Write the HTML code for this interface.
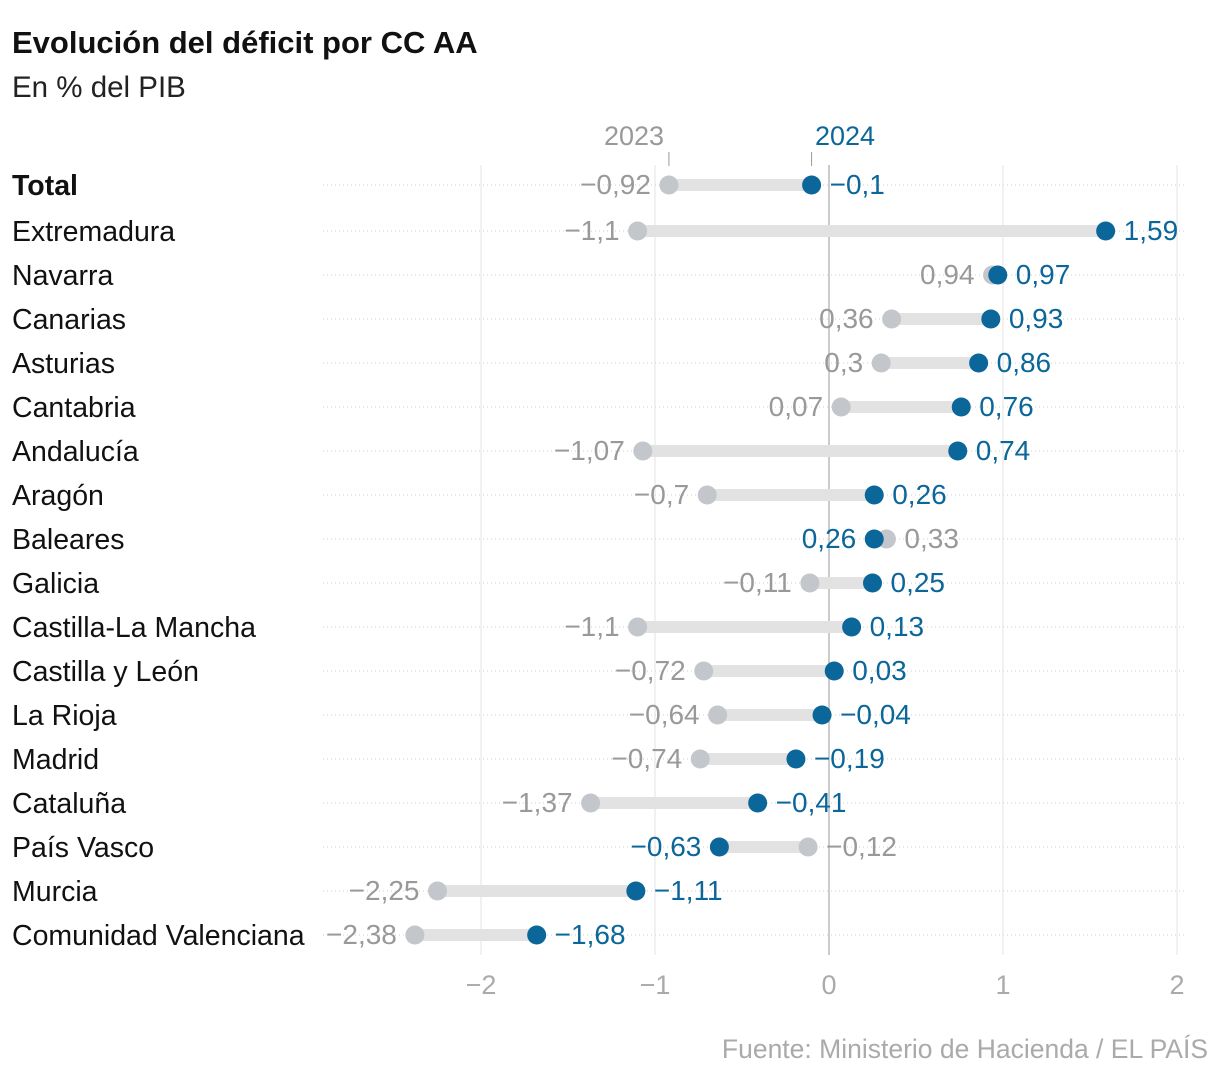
<!DOCTYPE html>
<html><head><meta charset="utf-8"><style>
body{margin:0;background:#fff;font-family:"Liberation Sans",sans-serif;}
svg text{font-family:"Liberation Sans",sans-serif;}
</style></head><body>
<svg id="c" width="1220" height="1078">
<text x="12" y="53" font-size="31" font-weight="bold" fill="#111">Evolución del déficit por CC AA</text>
<text x="12" y="97" font-size="29.5" fill="#222">En % del PIB</text>
<text x="1208" y="1058" font-size="26.5" fill="#aaa" text-anchor="end">Fuente: Ministerio de Hacienda / EL PAÍS</text>
<g id="g"></g>
</svg>
<script>
const regions=["Total","Extremadura","Navarra","Canarias","Asturias","Cantabria","Andalucía","Aragón","Baleares","Galicia","Castilla-La Mancha","Castilla y León","La Rioja","Madrid","Cataluña","País Vasco","Murcia","Comunidad Valenciana"];
const v2023=[-0.92,-1.1,0.94,0.36,0.3,0.07,-1.07,-0.7,0.33,-0.11,-1.1,-0.72,-0.64,-0.74,-1.37,-0.12,-2.25,-2.38];
const v2024=[-0.1,1.59,0.97,0.93,0.86,0.76,0.74,0.26,0.26,0.25,0.13,0.03,-0.04,-0.19,-0.41,-0.63,-1.11,-1.68];
const ticks=[-2,-1,0,1,2];
const X=v=>829+v*174, Y=i=>185+44*i+(i>0?2:0);
const g=document.getElementById('g'),NS='http://www.w3.org/2000/svg';
function el(t,a,txt){const e=document.createElementNS(NS,t);for(const k in a)e.setAttribute(k,a[k]);if(txt!=null)e.textContent=txt;g.appendChild(e);return e;}
const fmt=v=>(v<0?'−':'')+String(Math.abs(v)).replace('.',',');
regions.forEach((r,i)=>{const l=el('line',{x1:323,x2:1187,y1:Y(i),y2:Y(i),stroke:'#ccc','stroke-dasharray':'1 3'});

});
ticks.forEach(t=>{const l=el('line',{x1:X(t),x2:X(t),y1:165,y2:955,stroke:t===0?'#bbb':'#e3e3e3','stroke-width':t===0?1.5:1});


const tx=el('text',{x:X(t),y:994,'font-size':27,fill:'#aaa','text-anchor':'middle'},fmt(t));

});
const h1=el('text',{x:634,y:145,'font-size':27,fill:'#999','text-anchor':'middle'},'2023');


const h2=el('text',{x:845,y:145,'font-size':27,fill:'#0b6699','text-anchor':'middle'},'2024');


el('line',{x1:X(v2023[0]),x2:X(v2023[0]),y1:152,y2:166,stroke:'#999'});
el('line',{x1:X(v2024[0]),x2:X(v2024[0]),y1:152,y2:166,stroke:'#999'});
regions.forEach((r,i)=>{
const y=Y(i),a=v2023[i],b=v2024[i],xa=X(a),xb=X(b);
const lb=el('text',{x:12,y:y+10,'font-size':28.5,fill:'#111','font-weight':i===0?'bold':'normal'},r);


const bar=el('line',{x1:xa,x2:xb,y1:y,y2:y,stroke:'#e2e2e2','stroke-width':12});


const d1=el('circle',{cx:xa,cy:y,r:9.5,fill:'#c3c6ca'});


const d2=el('circle',{cx:xb,cy:y,r:9.5,fill:'#0b6699'});


const up=b>=a;
const t1=el('text',{x:up?xa-18:xa+18,y:y+9,'font-size':28,fill:'#999','text-anchor':up?'end':'start'},fmt(a));


const t2=el('text',{x:up?xb+18:xb-18,y:y+9,'font-size':28,fill:'#0b6699','text-anchor':up?'start':'end'},fmt(b));


});
</script>
</body></html>
